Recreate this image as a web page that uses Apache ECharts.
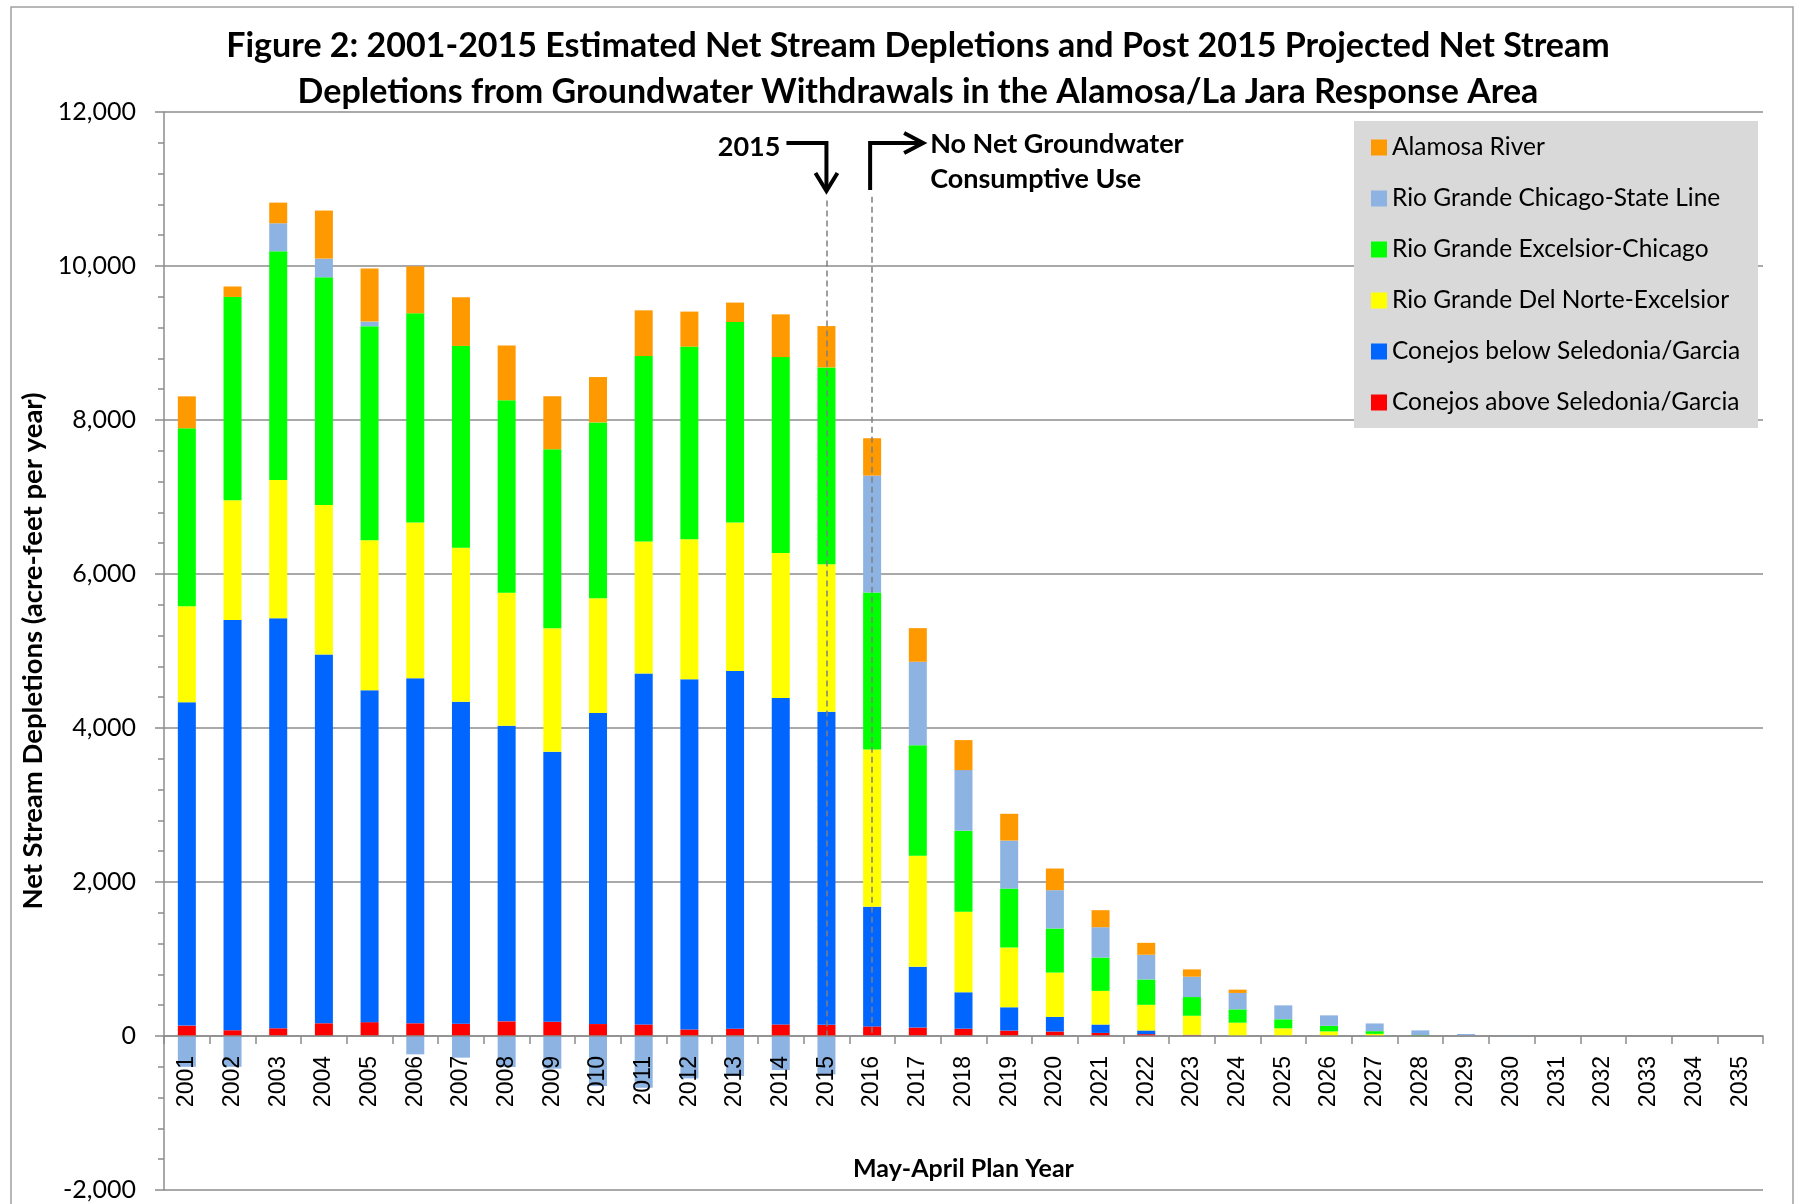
<!DOCTYPE html>
<html lang="en">

<head>
  <meta charset="utf-8" />
  <title>Figure 2</title>
  <script src="https://cdn.jsdelivr.net/npm/echarts@6/dist/echarts.min.js"></script>
  <style>
    * {
      margin: 0;
      padding: 0;
    }

    #chart-container {
      position: relative;
      width: 1794px;
      height: 1204px;
      overflow: hidden;
      background: #fff;
    }
  </style>
</head>

<body>
  <div id="chart-container"></div>

  <script>
    const years = ['2001', '2002', '2003', '2004', '2005', '2006', '2007', '2008', '2009', '2010',
      '2011', '2012', '2013', '2014', '2015', '2016', '2017', '2018', '2019', '2020',
      '2021', '2022', '2023', '2024', '2025', '2026', '2027', '2028', '2029', '2030',
      '2031', '2032', '2033', '2034', '2035'];

    // acre-feet per year
    const conejosAbove = [135, 75, 100, 165, 180, 165, 160, 190, 185, 155, 150, 85, 95, 150, 145,
      125, 110, 95, 70, 58, 40, 24, 12, 0, 0, 0, 0, 0, 0, 0, 0, 0, 0, 0, 0];
    const conejosBelow = [4198, 5329, 5326, 4788, 4310, 4482, 4182, 3840, 3507, 4041, 4559, 4548, 4644, 4240, 4065,
      1553, 788, 473, 303, 190, 109, 48, 4, 0, 0, 0, 0, 0, 0, 0, 0, 0, 0, 0, 0];
    const delNorteExcelsior = [1247, 1553, 1795, 1943, 1948, 2023, 1999, 1726, 1605, 1489, 1713, 1818, 1931, 1884, 1916,
      2042, 1443, 1047, 775, 576, 437, 333, 247, 173, 100, 60, 28, 3, 0, 0, 0, 0, 0, 0, 0];
    const excelsiorChicago = [2312, 2641, 2970, 2957, 2779, 2716, 2621, 2500, 2322, 2284, 2408, 2502, 2603, 2543, 2557,
      2041, 1434, 1050, 766, 572, 433, 329, 243, 173, 117, 72, 35, 10, 0, 0, 0, 0, 0, 0, 0];
    const chicagoStateLine = [-400, -400, 364, 243, 61, -238, -281, -403, -424, -650, -671, -550, -520, -442, -498,
      1517, 1085, 788, 624, 498, 394, 321, 264, 213, 181, 136, 100, 60, 26, 9, 0, 0, 0, 0, 0];
    const alamosaRiver = [415, 136, 268, 624, 688, 610, 632, 710, 689, 589, 594, 455, 252, 555, 537,
      485, 437, 390, 348, 281, 221, 155, 95, 43, 0, 0, 0, 0, 0, 0, 0, 0, 0, 0, 0];

    const yTicks = [-2000, 12000, 2000];
  </script>

  <script>
    var dom = document.getElementById("chart-container");
    var myChart = echarts.init(dom, null, { renderer: "canvas" });

    const font = 'Lato, "Open Sans", sans-serif';
    const gray = '#8c8c8c';

    // plot box; the second grid ends at the zero line so its x axis sits there
    const plotTop = 112, plotBottom = 1190, H = 1204;
    const zeroY = plotTop + (yTicks[1] / (yTicks[1] - yTicks[0])) * (plotBottom - plotTop);

    function barSeries(name, data, color) {
      return {
        name: name,
        type: 'bar',
        stack: 'total',
        barWidth: 18,
        data: data,
        itemStyle: { color: color },
      };
    }

    var orange = barSeries('Alamosa River', alamosaRiver, '#ff9900');
    orange.markLine = {
      silent: true,
      symbol: ['none', 'none'],
      label: { show: false },
      lineStyle: { type: [6, 4], color: '#7f7f7f', width: 1.5 },
      data: [
        [{ coord: ['2015', 10850] }, { coord: ['2015', 0] }],
        [{ coord: ['2016', 10900] }, { coord: ['2016', 0] }],
      ],
    };

    var option = {
      animation: false,
      legend: {
        orient: 'vertical',
        left: 1371,
        top: 135,
        padding: 0,
        itemWidth: 16,
        itemHeight: 16,
        itemGap: 26,
        icon: 'rect',
        selectedMode: false,
        z: 5,
        textStyle: { fontFamily: font, fontSize: 24.5, color: '#000' },
        data: ['Alamosa River', 'Rio Grande Chicago-State Line', 'Rio Grande Excelsior-Chicago',
          'Rio Grande Del Norte-Excelsior', 'Conejos below Seledonia/Garcia', 'Conejos above Seledonia/Garcia'],
      },
      grid: [
        { left: 164, right: 31, top: plotTop, bottom: H - plotBottom, outerBoundsMode: 'none', containLabel: false },
        { left: 164, right: 31, top: plotTop, bottom: H - zeroY, outerBoundsMode: 'none', containLabel: false },
      ],
      xAxis: [
        {
          type: 'category',
          gridIndex: 0,
          data: years,
          axisLine: { show: false },
          axisTick: { show: false },
          axisLabel: { show: false },
        },
        {
          type: 'category',
          gridIndex: 1,
          z: 10,
          data: years,
          axisLine: { show: true, onZero: false, lineStyle: { color: gray, width: 1.5 } },
          axisTick: { show: true, interval: 0, length: 8, lineStyle: { color: gray, width: 1.5 } },
          axisLabel: {
            interval: 0, rotate: 90, margin: 20, color: '#000',
            fontFamily: '"Liberation Sans", Arial, sans-serif', fontSize: 23,
          },
          name: 'May-April Plan Year',
          nameLocation: 'middle',
          nameGap: 120,
          nameTextStyle: { fontFamily: font, fontWeight: 'bold', fontSize: 25, color: '#000' },
        },
      ],
      yAxis: [
        {
          type: 'value',
          gridIndex: 0,
          min: yTicks[0],
          max: yTicks[1],
          interval: yTicks[2],
          axisLine: { show: true, lineStyle: { color: gray, width: 1.5 } },
          axisTick: { show: true, length: 9, lineStyle: { color: gray, width: 1.5 } },
          minorTick: { show: true, splitNumber: 5, length: 6, lineStyle: { color: gray, width: 1.5 } },
          splitLine: { show: true, lineStyle: { color: gray, width: 1.5 } },
          axisLabel: {
            margin: 28, color: '#000', fontFamily: font, fontSize: 25,
            formatter: (v) => v.toLocaleString('en-US'),
          },
          name: 'Net Stream Depletions (acre-feet per year)',
          nameLocation: 'middle',
          nameGap: 115,
          nameTextStyle: { fontFamily: font, fontWeight: 'bold', fontSize: 27.5, color: '#000' },
        },
        { type: 'value', gridIndex: 1, show: false, min: 0, max: yTicks[1] },
      ],
      series: [
        barSeries('Conejos above Seledonia/Garcia', conejosAbove, '#ff0000'),
        barSeries('Conejos below Seledonia/Garcia', conejosBelow, '#0066ff'),
        barSeries('Rio Grande Del Norte-Excelsior', delNorteExcelsior, '#ffff00'),
        barSeries('Rio Grande Excelsior-Chicago', excelsiorChicago, '#00ff00'),
        barSeries('Rio Grande Chicago-State Line', chicagoStateLine, '#8db3e2'),
        orange,
      ],
    };

    myChart.setOption(option);

    // annotations placed from the category positions
    const x15 = myChart.convertToPixel({ xAxisIndex: 0 }, '2015');
    const x16 = myChart.convertToPixel({ xAxisIndex: 0 }, '2016');
    const titleFont = 'bold 34px ' + font;
    const noteFont = 'bold 27px ' + font;

    myChart.setOption({
      graphic: [
        { type: 'rect', silent: true, z: 0, shape: { x: 11, y: 7, width: 1782, height: 1300 },
          style: { fill: 'none', stroke: '#a0a0a0', lineWidth: 1.5 } },
        { type: 'rect', silent: true, z: 3, shape: { x: 1354, y: 121, width: 404, height: 307 },
          style: { fill: '#d9d9d9' } },
        { type: 'text', silent: true, x: 918, y: 46,
          style: { text: 'Figure 2: 2001-2015 Estimated Net Stream Depletions and Post 2015 Projected Net Stream',
            font: titleFont, fill: '#000', align: 'center', verticalAlign: 'middle', textAlign: 'center', textVerticalAlign: 'middle' } },
        { type: 'text', silent: true, x: 918, y: 92,
          style: { text: 'Depletions from Groundwater Withdrawals in the Alamosa/La Jara Response Area',
            font: titleFont, fill: '#000', align: 'center', verticalAlign: 'middle', textAlign: 'center', textVerticalAlign: 'middle' } },
        { type: 'text', silent: true, x: x15 - 46, y: 147,
          style: { text: '2015', font: noteFont, fill: '#000', align: 'right', verticalAlign: 'middle', textAlign: 'right', textVerticalAlign: 'middle' } },
        { type: 'polyline', silent: true, z: 6, shape: { points: [[x15 - 40, 143], [x15, 143], [x15, 189]] },
          style: { stroke: '#000', lineWidth: 4, fill: null } },
        { type: 'polyline', silent: true, z: 6, shape: { points: [[x15 - 11, 173], [x15, 191], [x15 + 11, 173]] },
          style: { stroke: '#000', lineWidth: 4, fill: null } },
        { type: 'polyline', silent: true, z: 6, shape: { points: [[x16 - 2, 190], [x16 - 2, 143], [x16 + 49, 143]] },
          style: { stroke: '#000', lineWidth: 4, fill: null } },
        { type: 'polyline', silent: true, z: 6, shape: { points: [[x16 + 32, 133], [x16 + 51, 143], [x16 + 32, 153]] },
          style: { stroke: '#000', lineWidth: 4, fill: null } },
        { type: 'text', silent: true, x: x16 + 58, y: 144,
          style: { text: 'No Net Groundwater', font: noteFont, fill: '#000', align: 'left', verticalAlign: 'middle', textAlign: 'left', textVerticalAlign: 'middle' } },
        { type: 'text', silent: true, x: x16 + 58, y: 179,
          style: { text: 'Consumptive Use', font: noteFont, fill: '#000', align: 'left', verticalAlign: 'middle', textAlign: 'left', textVerticalAlign: 'middle' } },
      ],
    });

    window.addEventListener("resize", myChart.resize);
  </script>
</body>

</html>
